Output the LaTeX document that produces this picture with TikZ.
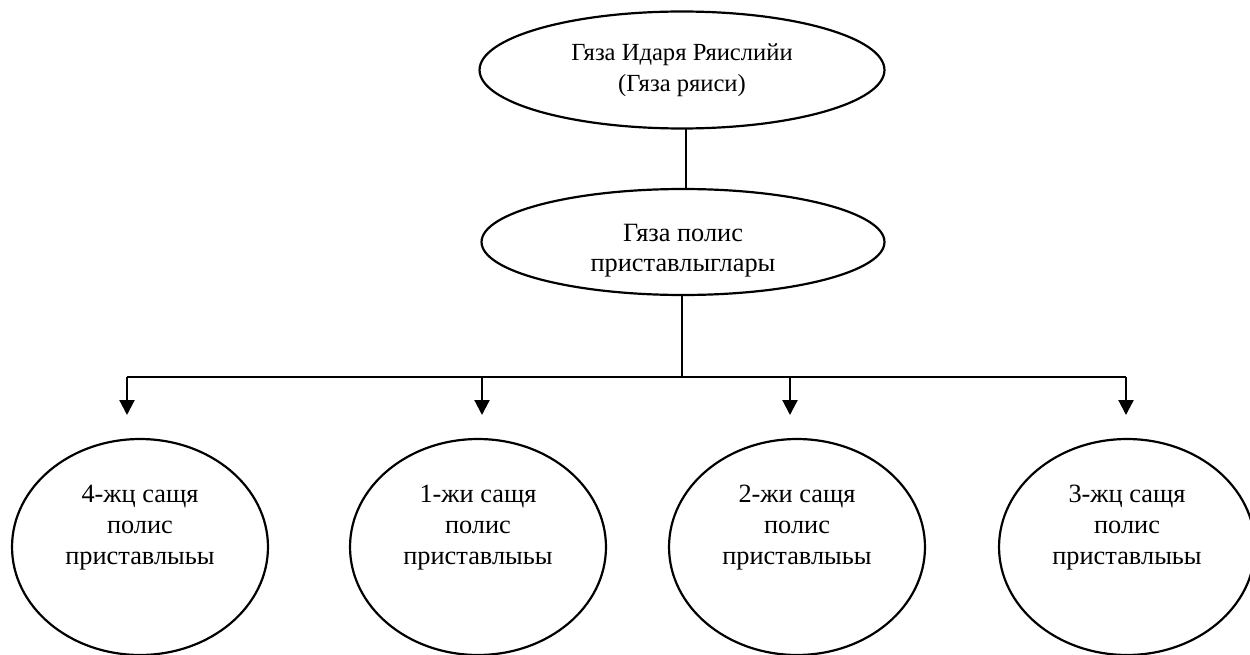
\documentclass[tikz,border=0pt]{standalone}
\usepackage{fontspec}
\setmainfont{Liberation Serif}
\usetikzlibrary{shapes.geometric,arrows.meta}
\tikzset{>={Triangle[width=0.3cm,length=0.3cm]}}

\begin{document}
\begin{tikzpicture}[x=0.02cm,y=-0.02cm,line width=1.25pt,
    oval/.style={draw,ellipse,inner sep=0pt,align=center},
    chief/.style={oval,minimum width=8.1cm,minimum height=2.34cm,font=\fontsize{14}{17.6}\selectfont},
    head/.style={oval,minimum width=8.06cm,minimum height=2.12cm,text height=1.3cm,font=\fontsize{15}{17.2}\selectfont},
    unit/.style={oval,minimum width=5.12cm,minimum height=4.32cm,text depth=0.9cm,font=\fontsize{15}{17.6}\selectfont}]
        \useasboundingbox (0,0) rectangle (1250,655);
        \node[chief] (chief) at (682,70) {Гяза Идаря Ряислийи\\(Гяза ряиси)};
        \node[head] (police) at (683,242) {Гяза полис\\приставлыглары};
        \node[unit] (d4) at (140,547) {4-жц сащя\\полис\\приставлыьы};
        \node[unit] (d1) at (478,547) {1-жи сащя\\полис\\приставлыьы};
        \node[unit] (d2) at (797,547) {2-жи сащя\\полис\\приставлыьы};
        \node[unit] (d3) at (1127,547) {3-жц сащя\\полис\\приставлыьы};
        \coordinate (link) at (686,129);
        \coordinate (bus) at (682,377);
        \coordinate (a4) at (127,415);
        \coordinate (a1) at (482,415);
        \coordinate (a2) at (790,415);
        \coordinate (a3) at (1126,415);
        \draw (link) -- (link |- police.north);
        \draw (bus |- police.south) -- (bus);
        \draw (a4 |- bus) -- (a3 |- bus);
        \draw[->] (a4 |- bus) -- (a4);
        \draw[->] (a1 |- bus) -- (a1);
        \draw[->] (a2 |- bus) -- (a2);
        \draw[->] (a3 |- bus) -- (a3);
\end{tikzpicture}
\end{document}
